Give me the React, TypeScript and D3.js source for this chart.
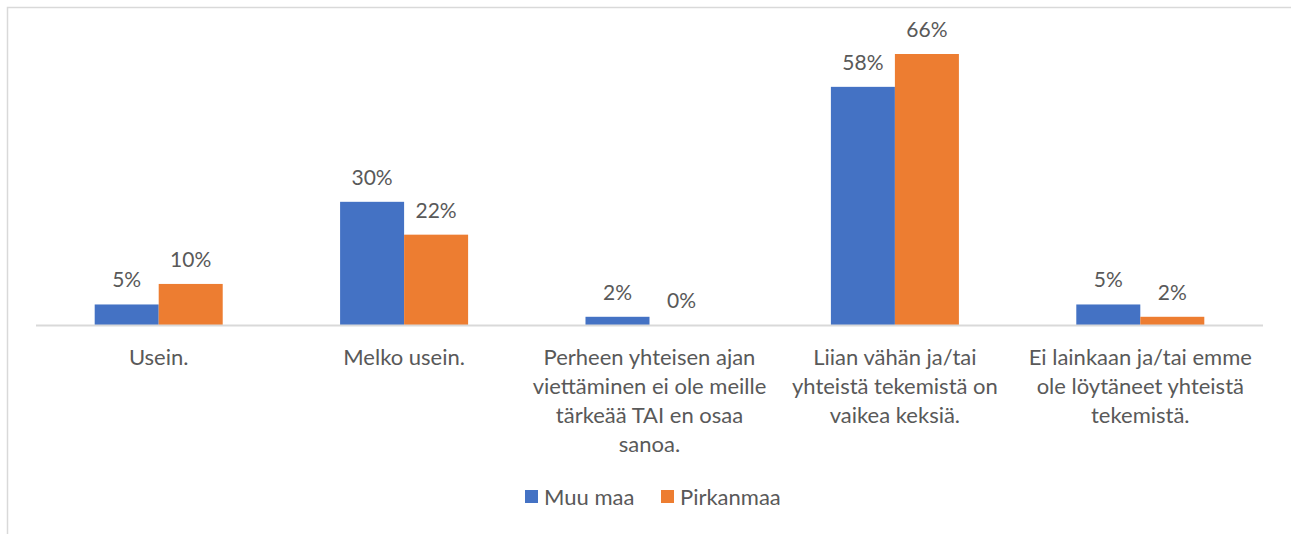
import { useEffect, useRef } from 'react';
import * as d3 from 'd3';

const categories = [
  'Usein.',
  'Melko usein.',
  'Perheen yhteisen ajan viettäminen ei ole meille tärkeää TAI en osaa sanoa.',
  'Liian vähän ja/tai yhteistä tekemistä on vaikea keksiä.',
  'Ei lainkaan ja/tai emme ole löytäneet yhteistä tekemistä.',
];

// line breaks as they appear in the chart
const categoryLines = [
  ['Usein.'],
  ['Melko usein.'],
  ['Perheen yhteisen ajan', 'viettäminen ei ole meille', 'tärkeää TAI en osaa', 'sanoa.'],
  ['Liian vähän ja/tai', 'yhteistä tekemistä on', 'vaikea keksiä.'],
  ['Ei lainkaan ja/tai emme', 'ole löytäneet yhteistä', 'tekemistä.'],
];

const seriesNames = ['Muu maa', 'Pirkanmaa'];
const seriesColors = ['#4472C4', '#ED7D31'];
const muuMaa = [5, 30, 2, 58, 5];
const pirkanmaa = [10, 22, 0, 66, 2];

const W = 1291;
const H = 534;
const FONT = 'Lato, "Open Sans", sans-serif';
const TEXT = '#595959';

export default function App() {
  const svgRef = useRef<SVGSVGElement>(null);

  useEffect(() => {
    if (!svgRef.current) return;
    const svg = d3.select(svgRef.current);
    svg.selectAll('*').remove();

    // chart border (right/bottom edges fall off the page)
    svg.append('rect')
      .attr('x', 7.5).attr('y', 7.5)
      .attr('width', W + 10).attr('height', H + 10)
      .attr('fill', '#fff')
      .attr('stroke', '#d9d9d9')
      .attr('stroke-width', 1.5);

    const x0 = d3.scaleBand<string>()
      .domain(categories)
      .range([36, 1263])
      .paddingInner(0)
      .paddingOuter(0);

    const x1 = d3.scaleBand<string>()
      .domain(seriesNames)
      .range([0, x0.bandwidth()])
      .paddingInner(0)
      .paddingOuter(0.917);

    const y = d3.scaleLinear().domain([0, 66]).range([325, 54]);

    const series = [muuMaa, pirkanmaa];

    series.forEach((vals, si) => {
      const g = svg.append('g');
      g.selectAll('rect')
        .data(vals)
        .join('rect')
        .attr('x', (_, i) => (x0(categories[i]) ?? 0) + (x1(seriesNames[si]) ?? 0))
        .attr('y', d => y(d))
        .attr('width', x1.bandwidth())
        .attr('height', d => y(0) - y(d))
        .attr('fill', seriesColors[si]);

      g.selectAll('text')
        .data(vals)
        .join('text')
        .attr('x', (_, i) => (x0(categories[i]) ?? 0) + (x1(seriesNames[si]) ?? 0) + x1.bandwidth() / 2)
        .attr('y', d => y(d) - 17)
        .attr('text-anchor', 'middle')
        .attr('font-family', FONT)
        .attr('font-size', 21)
        .attr('fill', TEXT)
        .text(d => `${d}%`);
    });

    // baseline
    svg.append('line')
      .attr('x1', 36).attr('x2', 1263)
      .attr('y1', y(0) + 0.5).attr('y2', y(0) + 0.5)
      .attr('stroke', '#d9d9d9')
      .attr('stroke-width', 2);

    // category labels
    categoryLines.forEach((lines, i) => {
      const cx = (x0(categories[i]) ?? 0) + x0.bandwidth() / 2;
      const t = svg.append('text')
        .attr('text-anchor', 'middle')
        .attr('font-family', FONT)
        .attr('font-size', 22)
        .attr('fill', TEXT);
      lines.forEach((l, li) => {
        t.append('tspan')
          .attr('x', cx)
          .attr('y', 365 + li * 29)
          .text(l);
      });
    });

    // legend
    const legendX = [525, 661];
    seriesNames.forEach((name, i) => {
      svg.append('rect')
        .attr('x', legendX[i]).attr('y', 490)
        .attr('width', 13).attr('height', 13)
        .attr('fill', seriesColors[i]);
      svg.append('text')
        .attr('x', legendX[i] + 19).attr('y', 505)
        .attr('font-family', FONT)
        .attr('font-size', 22)
        .attr('fill', TEXT)
        .text(name);
    });
  }, []);

  return (
    <svg
      ref={svgRef}
      width={W}
      height={H}
      style={{ position: 'absolute', left: 0, top: 0, display: 'block' }}
    />
  );
}
